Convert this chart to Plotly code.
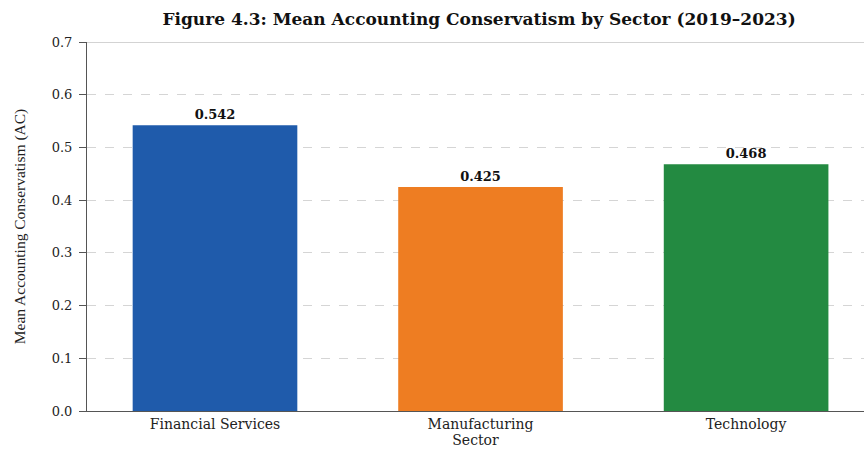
import plotly.graph_objects as go

sectors = ["Financial Services", "Manufacturing", "Technology"]
mean_ac = [0.542, 0.425, 0.468]
labels = ["0.542", "0.425", "0.468"]
colors = ["#1f5bab", "#ee7d22", "#238a41"]
y_ticks = [0.0, 0.1, 0.2, 0.3, 0.4, 0.5, 0.6, 0.7]
y_tick_text = ["0.0", "0.1", "0.2", "0.3", "0.4", "0.5", "0.6", "0.7"]

wide_serif = "DejaVu Serif, serif"
times = "Liberation Serif, Times New Roman, serif"

fig = go.Figure(go.Bar(
    x=sectors, y=mean_ac, width=0.62,
    marker=dict(color=colors, line=dict(width=0)),
    text=labels, textposition="outside",
    textfont=dict(family=wide_serif, size=13, color="#111111", weight="bold"),
    cliponaxis=False,
))

fig.update_layout(
    width=864, height=449,
    margin=dict(l=87, r=0, t=42, b=38),
    paper_bgcolor="white", plot_bgcolor="white",
    font=dict(family=wide_serif, size=13, color="#222222"),
    title=dict(text="<b>Figure 4.3: Mean Accounting Conservatism by Sector (2019–2023)</b>",
               xref="container", x=0.5545, xanchor="center", y=0.958, yanchor="middle",
               font=dict(family=wide_serif, size=17, color="#111111")),
    showlegend=False,
)
fig.update_xaxes(
    range=[-0.482, 2.444],
    showline=True, linecolor="#555555", linewidth=1,
    showgrid=False, ticks="", tickfont=dict(family=wide_serif, size=14),
    title=dict(text="Sector", font=dict(family=wide_serif, size=14), standoff=3),
)
fig.update_yaxes(
    range=[0, 0.7], tickvals=y_ticks, ticktext=y_tick_text,
    showline=True, linecolor="#555555", linewidth=1,
    ticks="outside", ticklen=7, tickcolor="#555555", ticklabelstandoff=4,
    showgrid=True, gridcolor="#d5d5d5", griddash="dash", gridwidth=1,
    tickfont=dict(family=wide_serif, size=13), zeroline=False,
    title=dict(text="Mean Accounting Conservatism (AC)", font=dict(family=times, size=15.5), standoff=22),
)
fig.add_shape(type="line", xref="paper", yref="y", x0=0, x1=1, y0=0.7, y1=0.7,
              line=dict(color="#c4c4c4", width=1.5))

fig.write_html("out.html")
